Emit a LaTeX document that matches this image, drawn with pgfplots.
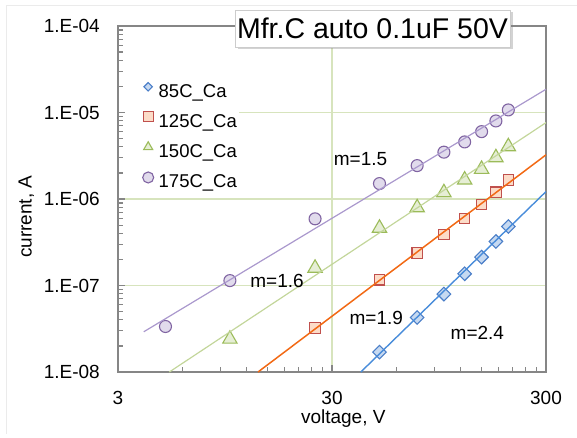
\documentclass[border=0pt]{standalone}
\usepackage{fontspec}
\setmainfont{Liberation Sans}
\usepackage{pgfplots}
\pgfplotsset{compat=1.18}
\usetikzlibrary{shadows}
\definecolor{gridc}{RGB}{215,228,189}
\definecolor{axc}{RGB}{134,134,134}
\definecolor{blueE}{RGB}{74,126,200}
\definecolor{blueF}{RGB}{198,217,241}
\definecolor{blueL}{RGB}{72,140,218}
\definecolor{redE}{RGB}{192,80,77}
\definecolor{redF}{RGB}{252,220,200}
\definecolor{orangeL}{RGB}{242,105,20}
\definecolor{greenE}{RGB}{155,187,89}
\definecolor{greenF}{RGB}{230,238,213}
\definecolor{greenL}{RGB}{195,214,155}
\definecolor{purpE}{RGB}{128,100,162}
\definecolor{purpF}{RGB}{225,219,236}
\definecolor{purpL}{RGB}{170,152,205}
\begin{document}
\begin{tikzpicture}
\path[use as bounding box] (-118pt,-65pt) rectangle (459pt,372pt);
\draw[black!8, line width=0.8pt] (-112pt,-62pt) -- (-112pt,367pt) -- (459pt,367pt);
\begin{axis}[
  scale only axis, width=428pt, height=346pt,
  xmode=log, ymode=log,
  xmin=3, xmax=300, ymin=1e-8, ymax=1e-4,
  clip mode=individual,
  axis line style={axc, line width=1.3pt},
  xtick={3,30,300}, xticklabels={3,30,300},
  ytick={1e-8,1e-7,1e-6,1e-5,1e-4},
  yticklabels={1.E-08,1.E-07,1.E-06,1.E-05,1.E-04},
  minor xtick={6,9,12,15,18,21,24,27,60,90,120,150,180,210,240,270},
  minor ytick={2e-8,3e-8,4e-8,5e-8,6e-8,7e-8,8e-8,9e-8,2e-7,3e-7,4e-7,5e-7,6e-7,7e-7,8e-7,9e-7,2e-6,3e-6,4e-6,5e-6,6e-6,7e-6,8e-6,9e-6,2e-5,3e-5,4e-5,5e-5,6e-5,7e-5,8e-5,9e-5},
  tick align=inside, xtick pos=bottom, ytick pos=left,
  major tick length=7pt, minor tick length=5pt,
  tick style={axc, line width=1.1pt},
  xmajorgrids, ymajorgrids,
  major grid style={gridc, line width=1.1pt},
  tick label style={font=\fontsize{19}{22}\selectfont, inner sep=0pt},
  xticklabel shift=19pt, yticklabel shift=18pt,
  xlabel={voltage, V}, ylabel={current, A},
  label style={font=\fontsize{19}{22}\selectfont, inner sep=0pt},
  x label style={at={(axis description cs:0.5264,-0.1483)}, anchor=base},
  y label style={at={(axis description cs:-0.2016,0.4488)}, anchor=base},
  legend style={at={(axis description cs:0.01636,0.843)}, anchor=north west,
    draw=none, fill=white, font=\fontsize{18.5}{21}\selectfont,
    row sep=11pt, column sep=5pt, inner xsep=2pt, inner ysep=2pt,
    nodes={inner sep=0pt, text height=12.5pt, text depth=3.5pt}},
  legend cell align=left,
  legend image code/.code={\path[draw=none,fill=none] (-17pt,6pt) -- (8pt,6pt);
    \draw[mark repeat=2,mark phase=2] plot coordinates {(0pt,6pt)(4pt,6pt)(8pt,6pt)};},
]
\addplot[only marks, mark=square*, mark size=4.8pt,
  mark options={rotate=45, draw=blueE, fill=blueF, line width=1.1pt},
  legend image post style={mark size=3pt}]
  coordinates {(50,1.70e-8)(75,4.27e-8)(100,7.96e-8)(125,1.366e-7)(150,2.13e-7)(175,3.23e-7)(200,4.81e-7)};
\addlegendentry{85C\_Ca}
\addplot[only marks, mark=square*, mark size=5.2pt,
  mark options={draw=redE, fill=redF, line width=1.1pt},
  legend image post style={mark size=5pt}]
  coordinates {(25,3.22e-8)(50,1.164e-7)(75,2.37e-7)(100,3.91e-7)(125,5.98e-7)(150,8.68e-7)(175,1.2e-6)(200,1.664e-6)};
\addlegendentry{125C\_Ca}
\addplot[only marks, mark=triangle*, mark size=8.3pt,
  mark options={draw=greenE, fill=greenF, line width=1.1pt},
  legend image post style={mark size=5.2pt}]
  coordinates {(10,2.405e-8)(25,1.59e-7)(50,4.61e-7)(75,7.96e-7)(100,1.187e-6)(125,1.664e-6)(150,2.212e-6)(175,3.01e-6)(200,4.04e-6)};
\addlegendentry{150C\_Ca}
\addplot[only marks, mark=*, mark size=6pt,
  mark options={draw=purpE, fill=purpF, line width=1.1pt},
  legend image post style={mark size=5.5pt}]
  coordinates {(5,3.36e-8)(10,1.14e-7)(25,5.9e-7)(50,1.508e-6)(75,2.434e-6)(100,3.48e-6)(125,4.57e-6)(150,6.01e-6)(175,7.99e-6)(200,1.071e-5)};
\addlegendentry{175C\_Ca}
\addplot[forget plot, no marks, purpL, line width=1.2pt] coordinates {(3.96,2.92e-8)(300,1.857e-5)};
\addplot[forget plot, no marks, greenL, line width=1.2pt] coordinates {(5.21,1e-8)(300,7.64e-6)};
\addplot[forget plot, no marks, orangeL, line width=1.5pt] coordinates {(13.53,1e-8)(300,3.24e-6)};
\addplot[forget plot, no marks, blueL, line width=1.4pt] coordinates {(40.9,1e-8)(300,1.219e-6)};
\node[font=\fontsize{19}{22}\selectfont] at (axis cs:40.8,2.91e-6) {m=1.5};
\node[font=\fontsize{19}{22}\selectfont] at (axis cs:16.6,1.134e-7) {m=1.6};
\node[font=\fontsize{19}{22}\selectfont] at (axis cs:48.3,4.2e-8) {m=1.9};
\node[font=\fontsize{19}{22}\selectfont] at (axis cs:143.3,2.84e-8) {m=2.4};
\end{axis}
\node[fill=white, draw=black!20, line width=0.6pt,
  drop shadow={shadow xshift=2.5pt, shadow yshift=-2.5pt, opacity=0.35},
  minimum width=275pt, minimum height=37pt, inner sep=0pt,
  font=\fontsize{28.5}{31}\selectfont] at (254.5pt,343.5pt) {Mfr.C auto 0.1uF 50V};
\end{tikzpicture}
\end{document}
